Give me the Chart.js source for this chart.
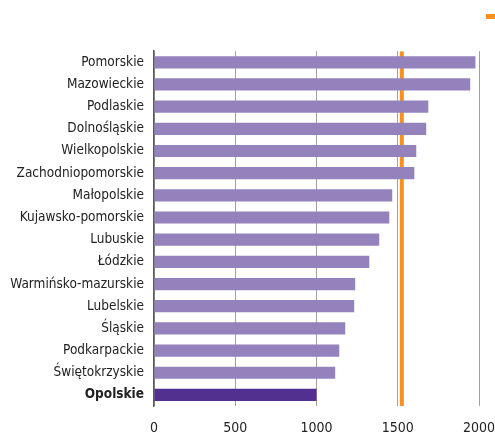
<!DOCTYPE html>
<html>
<head>
<meta charset="utf-8">
<script src="https://cdn.jsdelivr.net/npm/chart.js@4/dist/chart.umd.min.js"></script>
<style>
  html, body { margin: 0; padding: 0; background: #fff; }
  #wrap { width: 495px; height: 433px; }
</style>
</head>
<body>
<div id="wrap"><canvas id="chart"></canvas></div>
<script>
// województwa, od najwyższej wartości
const regions = [
  'Pomorskie', 'Mazowieckie', 'Podlaskie', 'Dolnośląskie', 'Wielkopolskie',
  'Zachodniopomorskie', 'Małopolskie', 'Kujawsko-pomorskie', 'Lubuskie', 'Łódzkie',
  'Warmińsko-mazurskie', 'Lubelskie', 'Śląskie', 'Podkarpackie', 'Świętokrzyskie', 'Opolskie'
];
const values = [
  1978, 1946, 1688, 1675, 1614, 1602, 1466, 1448, 1386, 1325,
  1238, 1232, 1177, 1140, 1115, 1000
];
const polandAvg = 1525;
const xTicks = [0, 500, 1000, 1500, 2000];

const highlight = 'Opolskie';
const barColors = regions.map(r => r === highlight ? '#52308f' : '#9382bb');
const labelFont = "'DejaVu Sans Condensed', 'Liberation Sans Narrow', 'Liberation Sans', sans-serif";

new Chart(document.getElementById('chart'), {
  type: 'bar',
  data: {
    labels: regions,
    datasets: [
      {
        label: '',
        data: values,
        backgroundColor: barColors,
        grouped: false,
        barPercentage: 0.55,
        categoryPercentage: 1
      },
      {
        type: 'line',
        label: '',
        yAxisID: 'yLine',
        data: [{ x: polandAvg, y: 0 }, { x: polandAvg, y: 1 }],
        borderColor: '#f7901e',
        backgroundColor: '#f7901e',
        borderWidth: 4,
        pointRadius: 0
      }
    ]
  },
  options: {
    indexAxis: 'y',
    responsive: true,
    maintainAspectRatio: false,
    animation: false,
    layout: { padding: { top: 14, right: 0, left: 0, bottom: 0 } },
    plugins: {
      tooltip: { enabled: false },
      legend: {
        display: true,
        position: 'top',
        align: 'start',
        rtl: true,
        labels: {
          boxWidth: 7,
          boxHeight: 3,
          padding: 0,
          font: { size: 2 },
          filter: item => item.datasetIndex === 1
        }
      },
      // pusty tytuł jako odstęp między legendą a wykresem
      title: {
        display: true,
        text: '',
        weight: 500,
        font: { size: 1 },
        padding: { top: 13, bottom: 10 }
      }
    },
    scales: {
      x: {
        type: 'linear',
        min: 0,
        max: 2000,
        afterBuildTicks: scale => { scale.ticks = xTicks.map(v => ({ value: v })); },
        afterFit: scale => {
          scale.height = 27;
          scale.paddingLeft = 0;
          scale.paddingRight = 16;
        },
        grid: { color: '#a0a0a0', lineWidth: 1, drawTicks: false },
        border: { display: false },
        ticks: {
          padding: 14,
          color: '#222',
          font: { family: labelFont, size: 14 },
          callback: v => String(v)
        }
      },
      y: {
        type: 'category',
        afterFit: scale => { scale.width = 154; },
        grid: { display: false, drawTicks: false },
        border: { display: true, color: '#5a5a5a', width: 1.5 },
        ticks: {
          padding: 10,
          color: '#222',
          font: ctx => ({
            family: labelFont,
            size: 13.5,
            weight: regions[ctx.index] === highlight ? 'bold' : 'normal'
          })
        }
      },
      yLine: {
        type: 'linear',
        min: 0,
        max: 1,
        offset: false,
        display: false
      }
    }
  }
});
</script>
</body>
</html>
